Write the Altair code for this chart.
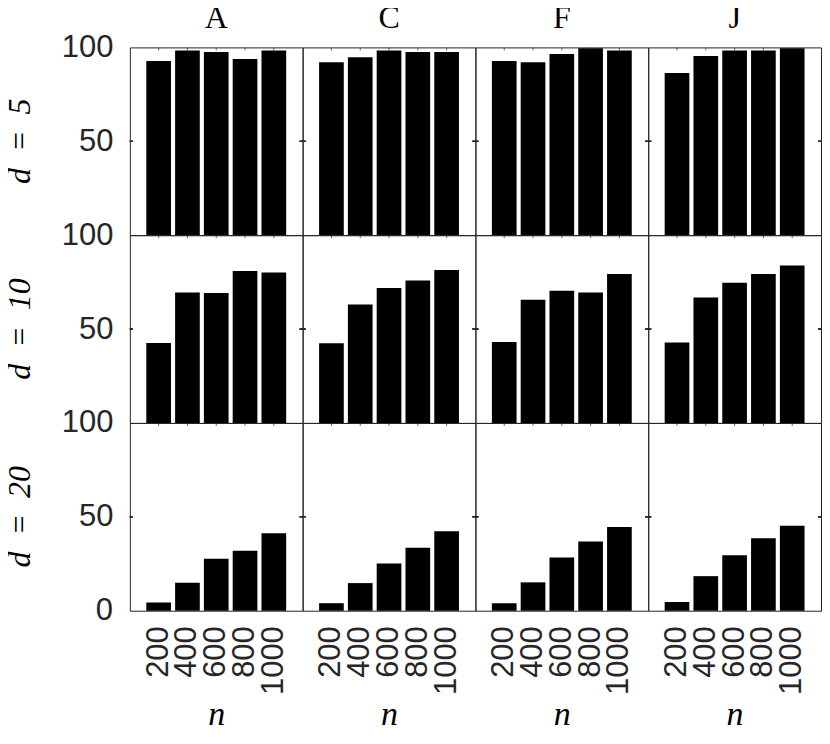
import altair as alt
import pandas as pd

methods = ["A", "C", "F", "J"]
ns = ["200", "400", "600", "800", "1000"]
dims = ["5", "10", "20"]
y_ticks = [0, 50, 100]

acc_d5 = {
    "A": [92.8, 98.4, 97.5, 93.8, 98.4],
    "C": [92.1, 94.7, 98.4, 97.5, 97.5],
    "F": [92.8, 92.1, 96.5, 99.5, 98.4],
    "J": [86.4, 95.4, 98.4, 98.4, 99.5],
}
acc_d10 = {
    "A": [42.6, 69.5, 69.2, 80.9, 80.1],
    "C": [42.5, 63.1, 71.8, 75.9, 81.4],
    "F": [43.1, 65.6, 70.4, 69.4, 79.3],
    "J": [42.8, 66.8, 74.6, 79.3, 83.8],
}
acc_d20 = {
    "A": [4.4, 14.9, 27.7, 31.9, 41.2],
    "C": [4.0, 14.7, 25.1, 33.5, 42.3],
    "F": [4.0, 15.1, 28.4, 36.8, 44.6],
    "J": [4.7, 18.4, 29.5, 38.6, 45.3],
}
acc = {"5": acc_d5, "10": acc_d10, "20": acc_d20}

row_labels = ["d\u2002=\u2002" + d for d in dims]

records = []
for d, lab in zip(dims, row_labels):
    for m in methods:
        for n, v in zip(ns, acc[d][m]):
            records.append({"d": lab, "m": m, "n": n, "v": v})
df = pd.DataFrame(records)

W = 173
H = 188
INK = "#262626"

xenc = alt.X(
    "n:N",
    sort=ns,
    scale=alt.Scale(paddingInner=0, paddingOuter=0.5),
    axis=alt.Axis(
        title="n",
        labelAngle=270,
        labelFont="Liberation Sans",
        labelFontSize=31,
        labelColor=INK,
        labelPadding=15,
        labelOverlap=False,
        ticks=False,
        domain=False,
        titleFont="Liberation Serif",
        titleFontStyle="italic",
        titleFontWeight="normal",
        titleFontSize=34,
        titleColor="black",
        titlePadding=3,
    ),
)
yenc = alt.Y(
    "v:Q",
    scale=alt.Scale(domain=[y_ticks[0], y_ticks[-1]], nice=False),
    axis=alt.Axis(
        values=y_ticks[1:],
        title=None,
        labelFont="Liberation Sans",
        labelFontSize=31,
        labelColor=INK,
        labelPadding=17,
        ticks=False,
        domain=False,
        grid=False,
    ),
)

bars = alt.Chart().mark_bar(
    color="black", width=alt.RelativeBandSize(0.857)
).encode(x=xenc, y=yenc)

top_ticks = alt.Chart().mark_tick(
    orient="vertical", size=6, thickness=1, color=INK, clip=True
).encode(x=alt.X("n:N", sort=ns), y=alt.datum(y_ticks[-1]))

left_ticks = alt.Chart().mark_rule(color=INK, strokeWidth=1).encode(
    x=alt.value(0), x2=alt.value(3), y=alt.datum(y_ticks[1])
)
right_ticks = alt.Chart().mark_rule(color=INK, strokeWidth=1).encode(
    x=alt.value(W - 3), x2=alt.value(W), y=alt.datum(y_ticks[1])
)

zero_label = (
    alt.Chart()
    .mark_text(
        text=str(y_ticks[0]),
        align="right",
        baseline="middle",
        font="Liberation Sans",
        fontSize=31,
        color=INK,
        dx=-17,
    )
    .encode(x=alt.value(0), y=alt.datum(y_ticks[0]))
    .transform_filter(
        (alt.datum.d == row_labels[-1]) & (alt.datum.m == methods[0]) & (alt.datum.n == ns[0])
    )
)

layer = alt.layer(
    bars, top_ticks, left_ticks, right_ticks, zero_label, data=df
).properties(width=W, height=H)

chart = (
    layer.facet(
        column=alt.Column(
            "m:N",
            sort=methods,
            header=alt.Header(
                title=None,
                labelFont="Liberation Serif",
                labelFontSize=32,
                labelColor="black",
                labelPadding=12,
            ),
        ),
        row=alt.Row(
            "d:N",
            sort=row_labels,
            header=alt.Header(
                title=None,
                labelOrient="left",
                labelAngle=270,
                labelFont="Liberation Serif",
                labelFontStyle="italic",
                labelFontSize=32,
                labelColor="black",
                labelPadding=-8,
            ),
        ),
        spacing=0,
        bounds="flush",
    )
    .properties(padding={"left": -4, "top": -6, "right": 0, "bottom": 0})
    .configure_view(stroke=INK, strokeWidth=1)
    .configure_facet(spacing=0)
)

chart.save("out.html", embed_options={"renderer": "svg", "actions": False})
